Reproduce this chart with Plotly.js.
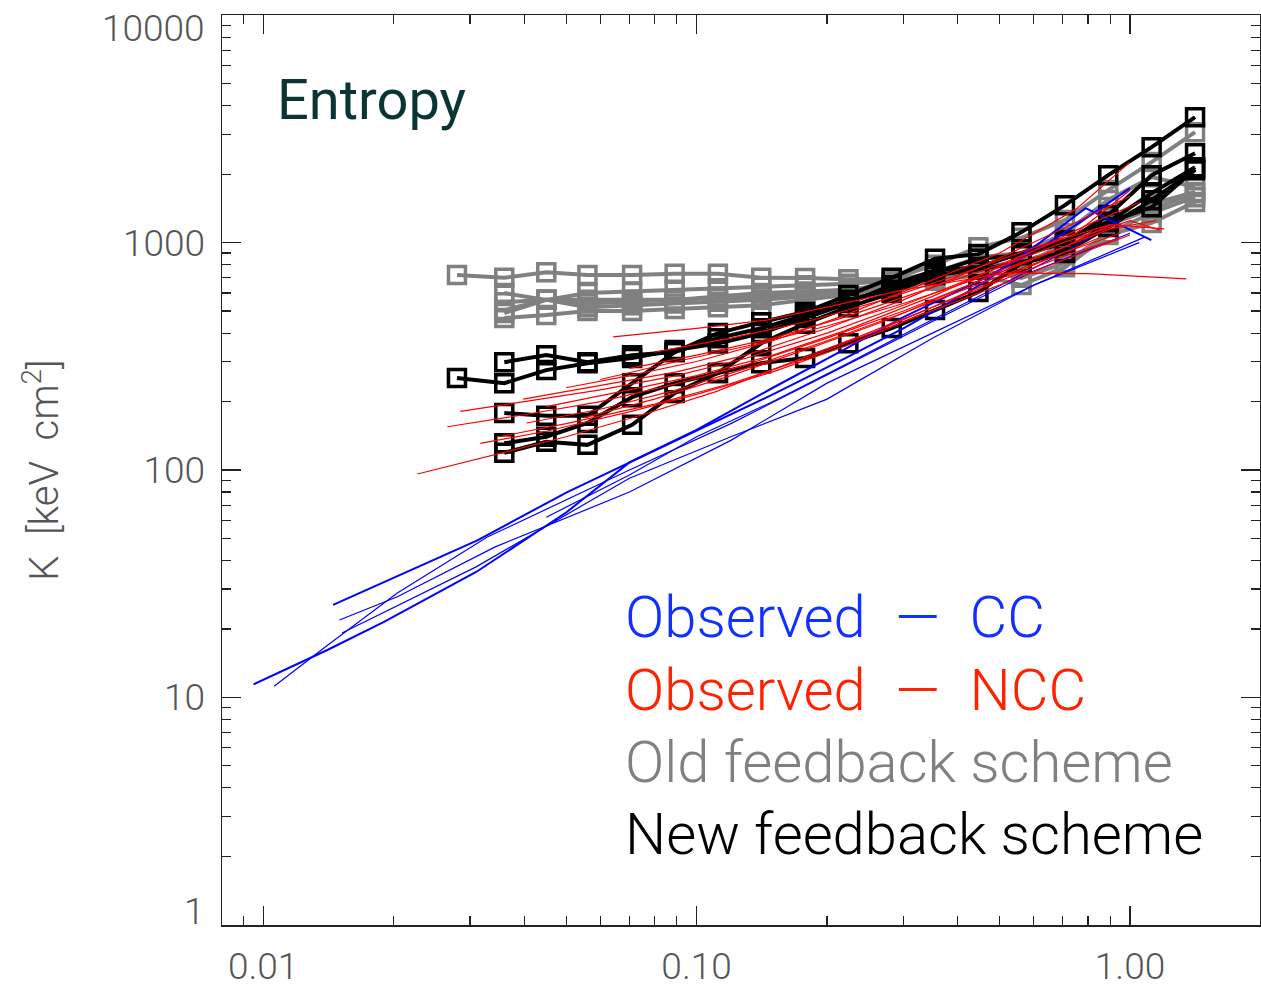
<!DOCTYPE html>
<html>
<head>
<meta charset="utf-8">
<script src="https://cdn.plot.ly/plotly-3.0.1.min.js"></script>
<style>html,body{margin:0;padding:0;background:#fff;}#chart{width:1261px;height:991px;}</style>
</head>
<body>
<div id="chart"></div>
<script>
// Radial bins (r / r500) for simulated profiles
const simR = [0.028, 0.036, 0.045, 0.056, 0.071, 0.089, 0.112, 0.141, 0.178, 0.224, 0.282, 0.355, 0.447, 0.562, 0.708, 0.891, 1.122, 1.413];

// Old feedback scheme (grey), K [keV cm^2]
const oldK = [
  [720, 700, 740, 720, 720, 730, 730, 700, 698, 690, 690, 800, 955, 1050, 1256, 1702, 2260, 3060],
  [null, 600, 560, 600, 610, 620, 630, 640, 650, 660, 680, 740, 860, 900, 1100, 1540, 1940, 1755],
  [null, 547, 560, 560, 560, 560, 570, 580, 600, 620, 660, 720, 800, 780, 1000, 1250, 1480, 1670],
  [null, 505, 560, 520, 530, 540, 550, 560, 580, 600, 640, 700, 760, 700, 813, 1100, 1350, 1585],
  [null, 466, 480, 500, 500, 510, 520, 530, 560, 590, 620, 680, 720, 651, 780, 1080, 1220, 1510],
  [null, 490, 560, 540, 550, 560, 580, 600, 610, 620, 650, 700, 780, 820, 950, 1200, 1400, 1650]
];

// New feedback scheme (black)
const newK = [
  [254, 241, 275, 295, 311, 337, 360, 400, 466, 542, 650, 757, 780, 900, 1026, 1231, 1651, 2147],
  [null, 298, 320, 298, 320, 330, 400, 447, 495, 588, 700, 850, 890, 1112, 1461, 1980, 2629, 3562],
  [null, 178, 173, 173, 241, 330, 380, 420, 480, 560, 620, 740, 850, 881, 1000, 1321, 1980, 2474],
  [null, 131, 140, 161, 209, 241, 267, 361, 440, 520, 600, 720, 760, 820, 908, 1170, 1537, 2083],
  [null, 119, 133, 129, 158, 218, 267, 295, 311, 361, 421, 505, 606, 813, 900, 1231, 1432, 2100]
];

// Observed cool-core clusters (blue)
const ccR = [
  [0.0095, 0.0141, 0.019, 0.031, 0.05, 0.07, 0.1, 0.15, 0.22, 0.3, 0.45, 0.65, 0.85, 1.0],
  [0.0145, 0.0312, 0.0503, 0.07, 0.1, 0.15, 0.22, 0.3, 0.45, 0.62, 0.79, 1.12],
  [0.0106, 0.0141, 0.0204, 0.0329, 0.07, 0.12, 0.2, 0.35, 0.6, 1.0],
  [0.015, 0.0204, 0.0343, 0.07, 0.12, 0.2, 0.35, 0.6, 1.05],
  [0.0152, 0.031, 0.07, 0.12, 0.2, 0.35, 0.6, 1.08],
  [0.045, 0.07, 0.1, 0.15, 0.22, 0.32, 0.48, 0.7, 0.95]
];
const ccK = [
  [11.4, 16.2, 21.5, 35.6, 65, 108, 150, 230, 340, 470, 680, 1000, 1400, 1736],
  [25.5, 49, 80, 108, 150, 215, 310, 420, 650, 1000, 1418, 1026],
  [11.2, 17, 28.8, 50.7, 100, 160, 262, 450, 750, 1100],
  [21.9, 27.7, 45.9, 80, 135, 241, 400, 650, 1000],
  [19.2, 37.5, 92, 140, 205, 380, 650, 1057],
  [62, 95, 140, 200, 290, 420, 620, 900, 1250]
];
const ccWidth = [2, 2, 1.2, 1.2, 1.2, 1.2];

// Observed non-cool-core clusters (red)
const nccR = [
  [0.0227, 0.034, 0.05, 0.075, 0.11, 0.16, 0.24, 0.35, 0.5, 0.7, 0.95],
  [0.0266, 0.04, 0.06, 0.09, 0.13, 0.2, 0.3, 0.45, 0.65, 0.9],
  [0.0285, 0.04, 0.06, 0.09, 0.13, 0.2, 0.3, 0.45, 0.7, 1.0, 1.17],
  [0.0317, 0.045, 0.07, 0.1, 0.15, 0.22, 0.32, 0.5, 0.75, 1.0],
  [0.0398, 0.06, 0.09, 0.13, 0.2, 0.3, 0.45, 0.7, 1.0],
  [0.0405, 0.06, 0.09, 0.13, 0.2, 0.3, 0.45, 0.7, 0.95],
  [0.0642, 0.1, 0.145, 0.2, 0.3, 0.52, 0.8, 1.35],
  [0.05, 0.07, 0.1, 0.15, 0.22, 0.32, 0.5, 0.75, 1.0],
  [0.045, 0.07, 0.1, 0.15, 0.22, 0.35, 0.55, 0.8, 1.05],
  [0.055, 0.08, 0.12, 0.18, 0.27, 0.4, 0.6, 0.9, 1.15],
  [0.07, 0.1, 0.15, 0.22, 0.32, 0.5, 0.75, 1.0],
  [0.06, 0.09, 0.13, 0.2, 0.3, 0.45, 0.7, 0.9],
  [0.035, 0.05, 0.08, 0.12, 0.18, 0.27, 0.4, 0.6, 0.85],
  [0.08, 0.12, 0.18, 0.27, 0.4, 0.6, 0.9, 1.2]
];
const nccK = [
  [96, 116, 140, 175, 220, 290, 390, 520, 680, 870, 1050],
  [155, 175, 200, 240, 290, 380, 500, 680, 900, 1150],
  [181, 200, 225, 260, 310, 400, 530, 720, 1000, 1250, 1135],
  [131, 148, 180, 215, 270, 350, 470, 650, 880, 1080],
  [205, 235, 270, 320, 420, 560, 780, 1150, 1600],
  [161, 185, 225, 280, 370, 490, 660, 900, 1100],
  [385, 420, 456, 520, 620, 735, 730, 692],
  [230, 260, 300, 370, 480, 640, 900, 1400, 2260],
  [190, 225, 260, 320, 410, 580, 850, 1200, 1500],
  [170, 205, 260, 340, 450, 620, 850, 1150, 1250],
  [280, 320, 380, 470, 600, 800, 1100, 1700],
  [250, 300, 350, 430, 540, 700, 950, 1200],
  [140, 160, 195, 240, 310, 420, 580, 800, 1050],
  [330, 380, 450, 560, 720, 950, 1200, 1150]
];

// Axis ticks
const xTickVals = [0.01, 0.1, 1];
const xTickText = ['0.01', '0.10', '1.00'];
const xMinorVals = [0.009, 0.02, 0.03, 0.04, 0.05, 0.06, 0.07, 0.08, 0.09, 0.2, 0.3, 0.4, 0.5, 0.6, 0.7, 0.8, 0.9];
const yTickVals = [1, 10, 100, 1000, 10000];
const yTickText = ['1', '10', '100', '1000', '10000'];
const yMinorVals = [2,3,4,5,6,7,8,9,20,30,40,50,60,70,80,90,200,300,400,500,600,700,800,900,2000,3000,4000,5000,6000,7000,8000,9000];
// The end labels ("1" and "10000") sit slightly inside the frame, as in the original
const yEdgeLabelIdx = [0, 4];
const yEdgeLabelPaperY = [0.0143, 0.9857];

const legendLabels = ['Observed\u2002\u2014\u2002CC', 'Observed\u2002\u2014\u2002NCC', 'Old feedback scheme', 'New feedback scheme'];
const legendColors = ['#1030ff', '#ff2200', '#808080', '#000000'];

const traces = [];
oldK.forEach(k => traces.push({
  x: simR, y: k, type: 'scatter', mode: 'lines+markers', connectgaps: false,
  line: {color: '#808080', width: 4},
  marker: {symbol: 'square-open', size: 17, color: '#808080', line: {width: 3.5, color: '#808080'}},
  hoverinfo: 'skip', showlegend: false
}));
newK.forEach(k => traces.push({
  x: simR, y: k, type: 'scatter', mode: 'lines+markers', connectgaps: false,
  line: {color: '#000000', width: 4},
  marker: {symbol: 'square-open', size: 17, color: '#000000', line: {width: 3.5, color: '#000000'}},
  hoverinfo: 'skip', showlegend: false
}));
ccR.forEach((r, i) => traces.push({
  x: r, y: ccK[i], type: 'scatter', mode: 'lines',
  line: {color: '#0000ff', width: ccWidth[i]}, hoverinfo: 'skip', showlegend: false
}));
nccR.forEach((r, i) => traces.push({
  x: r, y: nccK[i], type: 'scatter', mode: 'lines',
  line: {color: '#ff0000', width: 1.2}, hoverinfo: 'skip', showlegend: false
}));

const fam = 'Roboto, "Liberation Sans", sans-serif';
const xTickFont = {family: fam, size: 37, color: '#555555', weight: 300};
const yTickFont = {family: fam, size: 37, color: '#555555', weight: 300};

const annotations = [{
  xref: 'paper', yref: 'paper', x: 0.051, y: 0.907, xanchor: 'left', yanchor: 'middle',
  text: 'Entropy', showarrow: false,
  font: {family: fam, size: 56, color: '#0b3535', weight: 400}
}];
const legendY = [0.3385, 0.2582, 0.179, 0.100];
legendLabels.forEach((t, i) => annotations.push({
  xref: 'paper', yref: 'paper', x: 0.386, y: legendY[i], xanchor: 'left', yanchor: 'middle',
  text: t, showarrow: false,
  font: {family: fam, size: 58, color: legendColors[i], weight: 300}
}));
// end tick labels drawn as annotations, nudged inside like the original;
// their ticks coincide with the frame edges, so they are left off the axis itself
const yAxisVals = [], yAxisText = [];
yTickVals.forEach((v, idx) => {
  const j = yEdgeLabelIdx.indexOf(idx);
  if (j >= 0) {
    annotations.push({
      xref: 'paper', yref: 'paper', x: -0.0145, y: yEdgeLabelPaperY[j], xanchor: 'right', yanchor: 'middle',
      text: yTickText[idx], showarrow: false, font: yTickFont
    });
  } else {
    yAxisVals.push(v);
    yAxisText.push(yTickText[idx]);
  }
});

const axisCommon = {
  type: 'log', tickmode: 'array', ticks: 'inside', ticklen: 19, tickwidth: 1.3, tickcolor: '#222',
  showline: true, linecolor: '#222', linewidth: 1.5, mirror: 'ticks',
  showgrid: false, zeroline: false
};

const layout = {
  width: 1261, height: 991,
  margin: {l: 222, r: 1, t: 15, b: 66},
  paper_bgcolor: '#ffffff', plot_bgcolor: '#ffffff',
  showlegend: false,
  xaxis: Object.assign({}, axisCommon, {
    range: [-2.095, 0.30], tickvals: xTickVals, ticktext: xTickText, ticklabelstandoff: 8, tickfont: xTickFont,
    minor: {tickmode: 'array', tickvals: xMinorVals, ticks: 'inside', ticklen: 9, tickwidth: 1.2, tickcolor: '#222', showgrid: false}
  }),
  yaxis: Object.assign({}, axisCommon, {
    range: [-0.001, 4.001], tickvals: yAxisVals, ticktext: yAxisText, ticklabelstandoff: 8, tickfont: yTickFont,
    minor: {tickmode: 'array', tickvals: yMinorVals, ticks: 'inside', ticklen: 9, tickwidth: 1.2, tickcolor: '#222', showgrid: false},
    title: {text: 'K\u2002[keV\u2002cm<sup>2</sup>]', standoff: 52, font: {family: fam, size: 40, color: '#555555', weight: 300}}
  }),
  annotations: annotations
};

Plotly.newPlot('chart', traces, layout, {staticPlot: true, displayModeBar: false});
</script>
</body>
</html>
